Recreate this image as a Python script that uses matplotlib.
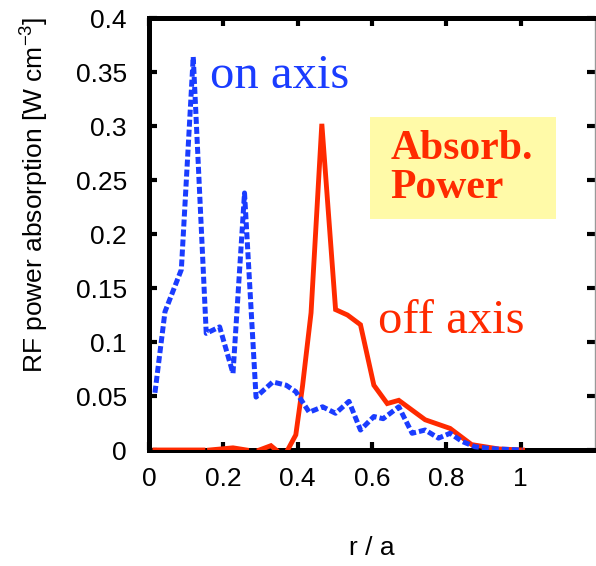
import numpy as np
import matplotlib
matplotlib.use("Agg")
import matplotlib.pyplot as plt
from matplotlib.patches import Rectangle

# ---- data ----
r_on = [0.016, 0.043, 0.087, 0.119, 0.154, 0.19, 0.226, 0.257, 0.288, 0.333,
        0.369, 0.395, 0.431, 0.467, 0.502, 0.538, 0.569, 0.605, 0.630, 0.672,
        0.708, 0.743, 0.779, 0.810, 0.842, 0.877, 0.93, 1.005]
p_on = [0.053, 0.128, 0.167, 0.364, 0.108, 0.114, 0.071, 0.238, 0.049, 0.063,
        0.060, 0.054, 0.035, 0.040, 0.034, 0.045, 0.0185, 0.031, 0.029, 0.040,
        0.0155, 0.0185, 0.011, 0.0155, 0.008, 0.003, 0.001, 0.0]

r_off = [0.016, 0.145, np.nan, 0.163, 0.226, 0.262, np.nan, 0.297, 0.328, 0.342,
         np.nan, 0.373, 0.395, 0.413, 0.436, 0.465, 0.502, 0.534, 0.569, 0.605,
         0.641, 0.672, 0.743, 0.810, 0.868, 0.94, 1.005]
p_off = [0.0, 0.0, np.nan, 0.0, 0.002, 0.0, np.nan, 0.0, 0.004, 0.0,
         np.nan, 0.0, 0.014, 0.059, 0.127, 0.302, 0.130, 0.125, 0.116, 0.060,
         0.043, 0.046, 0.028, 0.020, 0.005, 0.001, 0.0]

xticks = [0, 0.2, 0.4, 0.6, 0.8, 1]
xticklabels = ["0", "0.2", "0.4", "0.6", "0.8", "1"]
yticks = [0, 0.05, 0.1, 0.15, 0.2, 0.25, 0.3, 0.35, 0.4]
yticklabels = ["0", "0.05", "0.1", "0.15", "0.2", "0.25", "0.3", "0.35", "0.4"]

BLUE = "#1a3cff"
RED = "#ff2a00"

plt.rcParams["font.family"] = ["Liberation Sans", "DejaVu Sans"]
plt.rcParams["mathtext.default"] = "regular"

fig = plt.figure(figsize=(5.96, 5.66), dpi=100)
ax = fig.add_axes([149 / 596, 1 - 450 / 566, 446 / 596, 432 / 566])

ax.plot(r_off, p_off, color=RED, lw=3.5, zorder=3, solid_joinstyle="miter")
ax.plot(r_on, p_on, color=BLUE, lw=3.6, ls=(0, (1.4, 0.6)), zorder=4,
        dash_capstyle="butt")

ax.set_xlim(0, 1.2)
ax.set_ylim(0, 0.4)
ax.set_xticks(xticks)
ax.set_xticklabels(xticklabels)
ax.set_yticks(yticks)
ax.set_yticklabels(yticklabels)

for s in ["left", "bottom", "top"]:
    ax.spines[s].set_linewidth(3.6)
    ax.spines[s].set_color("black")
ax.spines["right"].set_linewidth(1.0)
ax.spines["right"].set_color("#999999")

ax.tick_params(direction="in", length=6, width=3, top=True, right=True,
               labelsize=19, pad=12)
ax.tick_params(axis="y", pad=16)

ax.set_xlabel("r / a", fontsize=19)
ax.xaxis.label.set_va("center")
ax.xaxis.set_label_coords(0.5, -0.227)
ax.set_ylabel("RF power absorption [W cm$^{-3}$]", fontsize=19)
ax.yaxis.label.set_va("center")
ax.yaxis.set_label_coords(-0.256, 0.59)

serif = ["Liberation Serif", "DejaVu Serif"]
ax.text(0.165, 0.335, "on axis", color=BLUE, fontsize=35, family=serif,
        ha="left", va="baseline")
ax.text(0.615, 0.108, "off axis", color=RED, fontsize=35, family=serif,
        ha="left", va="baseline")

# yellow label box
ax.add_patch(Rectangle((0.595, 0.2135), 0.5, 0.0945, facecolor="#fffaa8",
                       edgecolor="none", zorder=1))
ax.text(0.65, 0.2605, "Absorb.\nPower", color=RED, fontsize=30, family=serif,
        fontweight="bold", ha="left", va="center", linespacing=1.05, zorder=2)

fig.savefig("out.png", dpi=100)
